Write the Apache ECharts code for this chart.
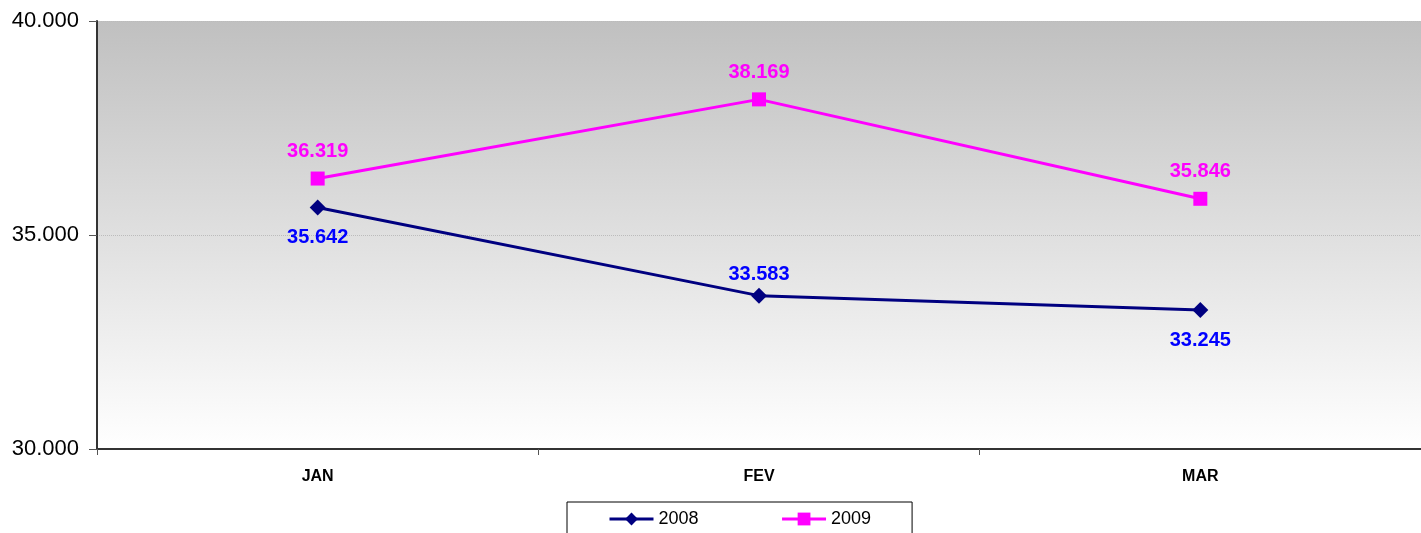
<!DOCTYPE html>
<html><head><meta charset="utf-8">
<script src="https://cdn.jsdelivr.net/npm/echarts@6/dist/echarts.min.js"></script>
<style>html,body{margin:0;padding:0;background:#fff}#c{width:1421px;height:533px}</style>
</head><body><div id="c"></div>
<script>
const categories = ['JAN', 'FEV', 'MAR'];
const s2008 = [35642, 33583, 33245];
const s2009 = [36319, 38169, 35846];
const pos2008 = ['bottom', 'top', 'bottom'];
const dist2008 = [12, 3, 12];
const fmt = v => String(v).replace(/\B(?=(\d{3})+(?!\d))/g, '.');

const chart = echarts.init(document.getElementById('c'), null, {renderer: 'canvas'});
chart.setOption({
  animation: false,
  textStyle: {fontFamily: 'Liberation Sans, Arial, sans-serif'},
  grid: {
    left: 97, right: 0, top: 21, bottom: 84,
    show: true, borderWidth: 0,
    backgroundColor: new echarts.graphic.LinearGradient(0, 0, 0, 1, [
      {offset: 0, color: '#c0c0c0'}, {offset: 1, color: '#ffffff'}
    ])
  },
  legend: {
    data: ['2008', '2009'],
    top: 502, left: 567,
    padding: [8, 41, 20, 41],
    itemGap: 82,
    itemWidth: 44, itemHeight: 16,
    lineStyle: {width: 3},
    borderColor: '#000', borderWidth: 1,
    textStyle: {fontSize: 18, color: '#000', fontFamily: 'Liberation Sans, Arial, sans-serif'}
  },
  xAxis: {
    type: 'category', data: categories, boundaryGap: true,
    axisLine: {lineStyle: {color: '#333', width: 2}},
    axisTick: {show: true, length: 6, lineStyle: {color: '#555'}},
    axisLabel: {fontWeight: 'bold', fontSize: 16, color: '#000', margin: 20},
    splitLine: {show: false}
  },
  yAxis: {
    type: 'value', min: 30000, max: 40000, interval: 5000,
    axisLine: {show: true, lineStyle: {color: '#333', width: 2}},
    axisTick: {show: true, length: 8, lineStyle: {color: '#555'}},
    axisLabel: {fontSize: 22, color: '#000', margin: 18, formatter: v => fmt(v)},
    splitLine: {show: true, lineStyle: {color: '#bbb', type: 'dotted'}}
  },
  series: [
    {
      name: '2008', type: 'line',
      data: s2008.map((v, i) => ({value: v, label: {position: pos2008[i], distance: dist2008[i]}})),
      symbol: 'diamond', symbolSize: 16,
      lineStyle: {color: '#000080', width: 3},
      itemStyle: {color: '#000080'},
      label: {show: true, fontWeight: 'bold', fontSize: 20, color: '#0000ff', formatter: p => fmt(p.value)}
    },
    {
      name: '2009', type: 'line', data: s2009,
      symbol: 'rect', symbolSize: 14,
      lineStyle: {color: '#ff00ff', width: 3},
      itemStyle: {color: '#ff00ff'},
      label: {show: true, position: 'top', fontWeight: 'bold', fontSize: 20, color: '#ff00ff', distance: 10, formatter: p => fmt(p.value)}
    }
  ]
});
</script></body></html>
